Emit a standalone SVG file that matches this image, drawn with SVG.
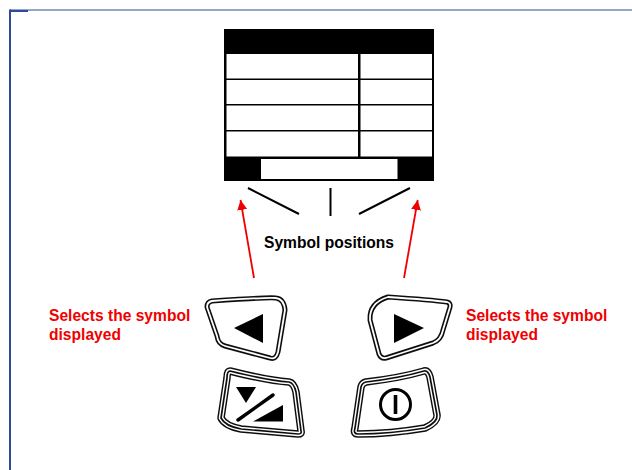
<svg xmlns="http://www.w3.org/2000/svg" width="632" height="470" viewBox="0 0 632 470">
<defs>
<style>
.t{font-family:"Liberation Sans",Arial,sans-serif;font-weight:700;font-size:15.600px}
.r{fill:#f00000}
.c{fill:#fff}
.o{fill:#fff;stroke:#111;stroke-width:5;stroke-linejoin:round}
.i{fill:none;stroke:#fff;stroke-width:1.800;stroke-linejoin:round}
.o2{fill:#fff;stroke:#111;stroke-width:7.500;stroke-linejoin:round}
.i2{fill:none;stroke:#fff;stroke-width:4.600;stroke-linejoin:round}
.m2{fill:none;stroke:#111;stroke-width:1.700;stroke-linejoin:round}
.l{stroke:#000;stroke-width:2;fill:none}
.b{filter:url(#s)}
</style>
<filter id="s" x="-5%" y="-5%" width="110%" height="110%"><feGaussianBlur stdDeviation="0.400"/></filter>
<marker id="a" markerUnits="userSpaceOnUse" markerWidth="12" markerHeight="12" refX="10" refY="5" orient="auto"><path d="M0 0L10 5L0 10Z" fill="#f00000"/></marker>
<path id="p-left" d="M212 301Q270 297 276 298Q284 299 285 310L278 352Q276 360 270 358L225 346Q218 344 217 336L207 307Q207 302 212 301Z"/>
<path id="p-right" d="M388 297Q432 300 447 302Q451 303 450 307L443 330Q441 340 433 343L386 358Q381 359 379 354L370 320Q369 303 388 297Z"/>
<path id="p-swap" d="M230 371Q270 381 289 382Q294 383 296 392L301 431Q302 434 298 434L241 429Q225 426 221 418L227 378Q227 371 230 371Z"/>
<path id="p-power" d="M366 382Q400 378 424 371Q428 370 430 377L437 415Q438 422 425 428Q390 434 358 434Q353 434 355 428L361 387Q362 383 366 382Z"/>
</defs>
<g id="frame" fill="none" stroke="#2f4a9a">
<path d="M10 10H632" stroke-width="1"/><path d="M10 9.500V470" stroke-width="2"/><path d="M10 11H28" stroke-width="2"/>
</g>
<g id="display">
<rect x="224" y="29" width="210" height="152"/>
<rect class="c" x="226.500" y="54" width="131.500" height="24.500"/><rect class="c" x="226.500" y="80" width="131.500" height="24"/><rect class="c" x="226.500" y="105.500" width="131.500" height="24.500"/><rect class="c" x="226.500" y="131.500" width="131.500" height="25"/>
<rect class="c" x="360.500" y="54" width="71.500" height="24.500"/><rect class="c" x="360.500" y="80" width="71.500" height="24"/><rect class="c" x="360.500" y="105.500" width="71.500" height="24.500"/><rect class="c" x="360.500" y="131.500" width="71.500" height="25"/>
<rect class="c" x="261" y="159" width="136.500" height="20"/>
</g>
<g id="connectors">
<path class="l" d="M248 188L299 214M330.500 188V216M359 214L410 188"/>
<path d="M254 278L240.500 200" stroke="#f00000" stroke-width="1.800" marker-end="url(#a)"/>
<path d="M404 278L417.700 200" stroke="#f00000" stroke-width="1.800" marker-end="url(#a)"/>
</g>
<g id="label-symbol-positions"><text class="t" x="264" y="248">Symbol positions</text></g>
<g id="label-left"><text class="t r" x="49" y="321">Selects the symbol</text><text class="t r" x="49" y="340">displayed</text></g>
<g id="label-right"><text class="t r" x="466" y="321">Selects the symbol</text><text class="t r" x="466" y="340">displayed</text></g>
<g id="btn-left" class="b">
<use href="#p-left" class="o"/><use href="#p-left" class="i"/>
<path d="M234 328L263 314V343Z"/>
</g>
<g id="btn-right" class="b">
<use href="#p-right" class="o"/><use href="#p-right" class="i"/>
<path d="M394 314L424 328L394 343Z"/>
</g>
<g id="btn-swap" class="b">
<use href="#p-swap" class="o2"/><use href="#p-swap" class="i2"/><use href="#p-swap" class="m2"/>
<path d="M236 387H256L246 403Z"/>
<path d="M253 421.500L283 405V421.500Z"/>
<path d="M238 420L273 395" stroke="#000" stroke-width="3.400" stroke-linecap="round"/>
</g>
<g id="btn-power" class="b">
<use href="#p-power" class="o2"/><use href="#p-power" class="i2"/><use href="#p-power" class="m2"/>
<circle cx="395.500" cy="404.500" r="15" fill="none" stroke="#000" stroke-width="3"/>
<path d="M395.500 395V414" stroke="#000" stroke-width="3.600"/>
</g>
</svg>
